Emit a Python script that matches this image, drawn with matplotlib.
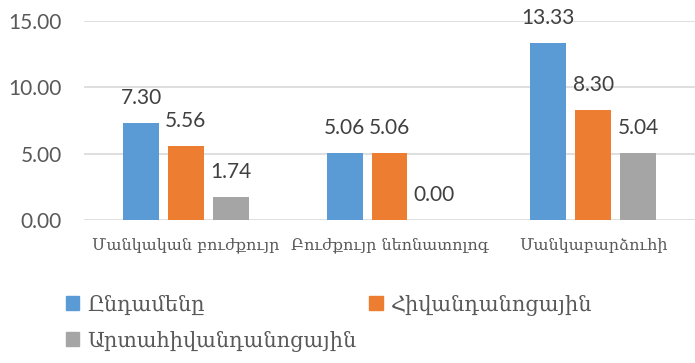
import matplotlib.pyplot as plt
import numpy as np
from matplotlib.patches import Patch

categories = ['Մանկական բուժքույր', 'Բուժքույր նեոնատոլոգ', 'Մանկաբարձուհի']
series_names = ['Ընդամենը', 'Հիվանդանոցային', 'Արտահիվանդանոցային']
total = [7.30, 5.06, 13.33]
hospital = [5.56, 5.06, 8.30]
outpatient = [1.74, 0.00, 5.04]
yticks = [0, 5, 10, 15]

colors = ['#5B9BD5', '#ED7D31', '#A5A5A5']
text_color = '#595959'
num_font = 'Lato'
arm_font = 'DejaVu Serif'

fig = plt.figure(figsize=(6.95, 3.63), dpi=100)
ax = fig.add_axes([84 / 695, 1 - 220 / 363, 1 - 84 / 695, 199.3 / 363])

x = np.arange(len(categories))
step = 0.22
width = 0.176
for i, (vals, c) in enumerate(zip([total, hospital, outpatient], colors)):
    pos = x + (i - 1) * step
    ax.bar(pos, vals, width=width, color=c, zorder=3)
    for px, v in zip(pos, vals):
        ax.annotate(f'{v:.2f}', (px, v), xytext=(0, 18), textcoords='offset points',
                    ha='center', va='center', fontsize=15, family=num_font,
                    color='#404040')

ax.set_xlim(-0.5, 2.5)
ax.set_ylim(0, 15)
ax.set_yticks(yticks)
ax.set_yticklabels([f'{t:.2f}' for t in yticks], family=num_font, fontsize=15,
                   color=text_color)
ax.set_xticks(x)
ax.set_xticklabels(categories, family=arm_font, fontsize=11.5, color=text_color)
ax.tick_params(axis='both', length=0)
ax.tick_params(axis='y', pad=16)
ax.tick_params(axis='x', pad=12)
ax.grid(axis='y', color='#D9D9D9', linewidth=1.2, zorder=0)
for s in ax.spines.values():
    s.set_visible(False)

handles = [Patch(color=c) for c in colors]
# column-major fill: first column gets items 0 and 2
order = [0, 2, 1]
fig.legend([handles[i] for i in order], [series_names[i] for i in order],
           ncol=2, loc='upper left', bbox_to_anchor=(47 / 695, 1 - 276 / 363),
           frameon=False, prop={'family': arm_font, 'size': 15},
           labelcolor=text_color, handlelength=0.65, handleheight=0.65,
           handletextpad=0.4, columnspacing=0.6, labelspacing=0.75)

fig.savefig('out.png', dpi=100)
